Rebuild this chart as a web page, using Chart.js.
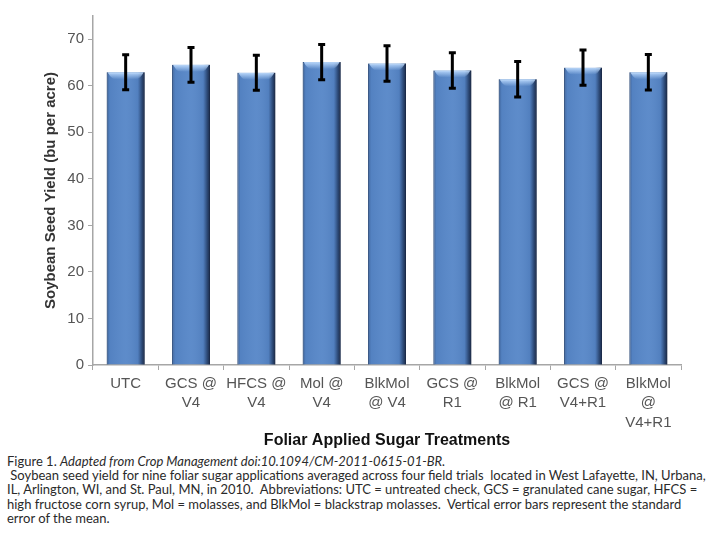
<!DOCTYPE html>
<html>
<head>
<meta charset="utf-8">
<script src="https://cdn.jsdelivr.net/npm/chart.js@4/dist/chart.umd.min.js"></script>
<style>
  html, body { margin: 0; padding: 0; background: #fff; }
  #wrap { position: relative; width: 720px; height: 544px; overflow: hidden; }
  #chartBox { position: absolute; left: 0; top: 0; width: 720px; height: 450px; }
  #caption {
    position: absolute; left: 7px; top: 454px; width: 712px;
    font-family: Lato, "Open Sans", sans-serif; font-size: 13px; line-height: 14.2px;
    color: #2a2a2a; white-space: pre;
  }
</style>
</head>
<body>
<div id="wrap">
  <div id="chartBox"><canvas id="c"></canvas></div>
  <div id="caption">Figure 1. <i>Adapted from Crop Management doi:10.1094/CM-2011-0615-01-BR.</i>
 Soybean seed yield for nine foliar sugar applications averaged across four field trials  located in West Lafayette, IN, Urbana,
IL, Arlington, WI, and St. Paul, MN, in 2010.  Abbreviations: UTC = untreated check, GCS = granulated cane sugar, HFCS =
high fructose corn syrup, Mol = molasses, and BlkMol = blackstrap molasses.  Vertical error bars represent the standard
error of the mean.</div>
</div>
<script>
// treatments on the x axis (multi-line labels as printed)
const treatments = [
  ['UTC'], ['GCS @', 'V4'], ['HFCS @', 'V4'], ['Mol @', 'V4'], ['BlkMol', '@ V4'],
  ['GCS @', 'R1'], ['BlkMol', '@ R1'], ['GCS @', 'V4+R1'], ['BlkMol', '@', 'V4+R1']
];
// mean yield, bu per acre
const yieldMean = [62.9, 64.5, 62.8, 65.1, 64.8, 63.3, 61.4, 63.9, 62.9];
// standard error of the mean
const yieldSE = [3.75, 3.75, 3.75, 3.8, 3.8, 3.8, 3.8, 3.8, 3.8];
const yTicks = [0, 10, 20, 30, 40, 50, 60, 70];
const yMax = 75;

const AXIS = '#a6a6a6';
const TICK_TXT = '#555';

// glossy shading on top of each bar (uses the bar elements' own geometry)
const barShade = {
  id: 'barShade',
  afterDatasetsDraw(chart) {
    const ctx = chart.ctx;
    chart.getDatasetMeta(0).data.forEach(bar => {
      const l = bar.x - bar.width / 2, r = bar.x + bar.width / 2;
      const t = bar.y, b = bar.base;
      const g = ctx.createLinearGradient(l, 0, r, 0);
      g.addColorStop(0, 'rgba(20,40,80,0.4)');
      g.addColorStop(0.08, 'rgba(20,40,80,0.06)');
      g.addColorStop(0.5, 'rgba(255,255,255,0.04)');
      g.addColorStop(0.82, 'rgba(20,40,80,0.08)');
      g.addColorStop(0.92, 'rgba(15,30,60,0.55)');
      g.addColorStop(1, 'rgba(10,20,45,0.85)');
      ctx.save();
      ctx.fillStyle = g;
      ctx.fillRect(l, t, r - l, b - t);
      // light cap at the top
      const h = ctx.createLinearGradient(0, t, 0, t + 7);
      h.addColorStop(0, 'rgba(190,220,255,0.95)');
      h.addColorStop(1, 'rgba(190,220,255,0)');
      ctx.fillStyle = h;
      ctx.beginPath();
      ctx.moveTo(l + 1, t);
      ctx.lineTo(r - 1, t);
      ctx.quadraticCurveTo(r - 4, t + 6, r - 8, t + 7);
      ctx.lineTo(l + 8, t + 7);
      ctx.quadraticCurveTo(l + 4, t + 6, l + 1, t);
      ctx.fill();
      ctx.restore();
    });
  }
};

// vertical error bars (mean ± SE)
const errorBars = {
  id: 'errorBars',
  afterDatasetsDraw(chart) {
    const ctx = chart.ctx, ys = chart.scales.y;
    chart.getDatasetMeta(0).data.forEach((bar, i) => {
      const hi = ys.getPixelForValue(yieldMean[i] + yieldSE[i]);
      const lo = ys.getPixelForValue(yieldMean[i] - yieldSE[i]);
      ctx.save();
      ctx.strokeStyle = '#000';
      ctx.lineWidth = 3;
      ctx.beginPath();
      ctx.moveTo(bar.x, hi); ctx.lineTo(bar.x, lo);
      ctx.moveTo(bar.x - 3.5, hi); ctx.lineTo(bar.x + 3.5, hi);
      ctx.moveTo(bar.x - 3.5, lo); ctx.lineTo(bar.x + 3.5, lo);
      ctx.stroke();
      ctx.restore();
    });
  }
};

new Chart(document.getElementById('c').getContext('2d'), {
  type: 'bar',
  data: {
    labels: treatments,
    datasets: [{
      data: yieldMean,
      backgroundColor: '#5787c8',
      borderColor: '#3d6397',
      borderWidth: 1,
      categoryPercentage: 1,
      barPercentage: 0.58
    }]
  },
  options: {
    responsive: true, maintainAspectRatio: false, animation: false,
    layout: { padding: { left: 0, right: 39, top: 16, bottom: 0 } },
    plugins: { legend: { display: false }, tooltip: { enabled: false } },
    scales: {
      x: {
        offset: true,
        grid: { display: true, drawOnChartArea: false, drawTicks: true, tickLength: 5, color: AXIS, offset: true },
        border: { color: AXIS, width: 1.5 },
        ticks: { color: TICK_TXT, font: { family: 'Liberation Sans, Arial', size: 15, lineHeight: 1.3 }, padding: 4, maxRotation: 0, autoSkip: false },
        title: {
          display: true, text: 'Foliar Applied Sugar Treatments', color: '#111',
          font: { family: 'Liberation Sans, Arial', size: 16, weight: 'bold', lineHeight: 1.2 },
          padding: { top: 0, bottom: 0 }
        },
        afterFit: s => { s.height = 85; }
      },
      y: {
        min: 0, max: yMax,
        afterBuildTicks: s => { s.ticks = yTicks.map(v => ({ value: v })); },
        grid: { display: true, drawOnChartArea: false, drawTicks: true, tickLength: 5, color: AXIS },
        border: { color: AXIS, width: 1.5 },
        ticks: { color: TICK_TXT, font: { family: 'Liberation Sans, Arial', size: 15 }, padding: 4 },
        title: {
          display: true, text: 'Soybean Seed Yield (bu per acre)', color: '#333',
          font: { family: 'Liberation Sans, Arial', size: 15, weight: 'bold', lineHeight: 1.2 },
          padding: { top: 42, bottom: 0 }
        },
        afterFit: s => { s.width = 93; }
      }
    }
  },
  plugins: [barShade, errorBars]
});
</script>
</body>
</html>
